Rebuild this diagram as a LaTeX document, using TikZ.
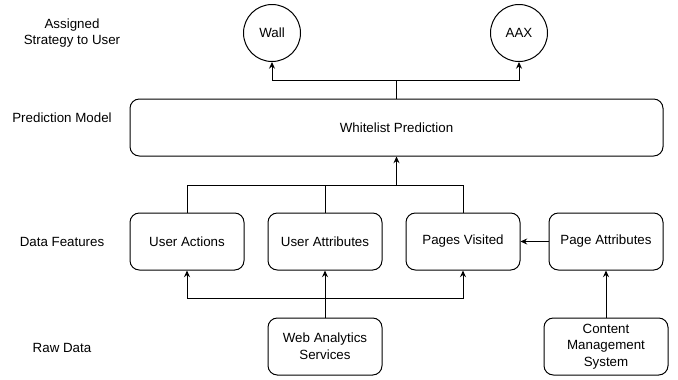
\documentclass[tikz,border=0pt]{standalone}
\usepackage{fontspec}
\setmainfont{Liberation Sans}
\usepackage{tikz}
\usetikzlibrary{arrows.meta}
\usetikzlibrary{positioning}

\begin{document}
\begin{tikzpicture}[x=0.75pt,y=-0.75pt,
font=\fontsize{10}{12.5}\selectfont,
arr/.style={-{Stealth[length=5pt,width=4.5pt]},line width=0.75pt},
link/.style={line width=0.75pt},
strat/.style={circle,draw,line width=0.75pt,minimum size=42.75pt,inner sep=0},
feat box/.style={rectangle,rounded corners=7pt,draw,line width=0.75pt,
                 minimum width=85.5pt,minimum height=42.75pt,align=center,inner sep=0},
layer/.style={align=center,inner sep=0}]
\useasboundingbox (0,0) rectangle (678,379);
% ==================
\node[layer] (l1) at (72,33) {Assigned\\Strategy to User};
\node[layer] (l2) at (62,118) {Prediction Model};
\node[layer] (l3) at (62,242) {Data Features};
\node[layer] (l4) at (62,348) {Raw Data};
% ==================
\node[strat] (wall) at (272,33) {Wall};
\node[strat] (aax) at (519,33) {AAX};
\node[feat box,minimum width=399.75pt] (wl) at (396.5,127.5) {Whitelist Prediction};
% ==================
\node[feat box] (ua) at (187,241.5) {User Actions};
\node[feat box] (uattr) at (325,241.5) {User Attributes};
\node[feat box] (pv) at (463,241.5) {Pages Visited};
\node[feat box] (pa) at (606,241.5) {Page Attributes};
\node[feat box] (wa) at (325,346.5) {Web Analytics\\Services};
\node[feat box,minimum width=93pt] (cms) at (606,346.5) {Content\\Management\\System};
% ===================
\coordinate (split) at (396.5,80);
\coordinate (merge) at (396.5,185);
\coordinate (fan) at (325,298);
\draw[link] (wl.north) -- (split);
\draw[arr] (split) -| (wall.south);
\draw[arr] (split) -| (aax.south);
\draw[arr] (merge) -- (wl.south);
\foreach \f in {ua,pv}{
\draw[link] (\f.north) |- (merge);
\draw[arr] (fan) -| (\f.south);
}
\draw[link] (uattr.north) -- (uattr.north |- merge);
\draw[arr] (wa.north) -- (uattr.south);
\draw[arr] (pa.west) -- (pv.east);
\draw[arr] (cms.north) -- (pa.south);
\end{tikzpicture}
\end{document}
